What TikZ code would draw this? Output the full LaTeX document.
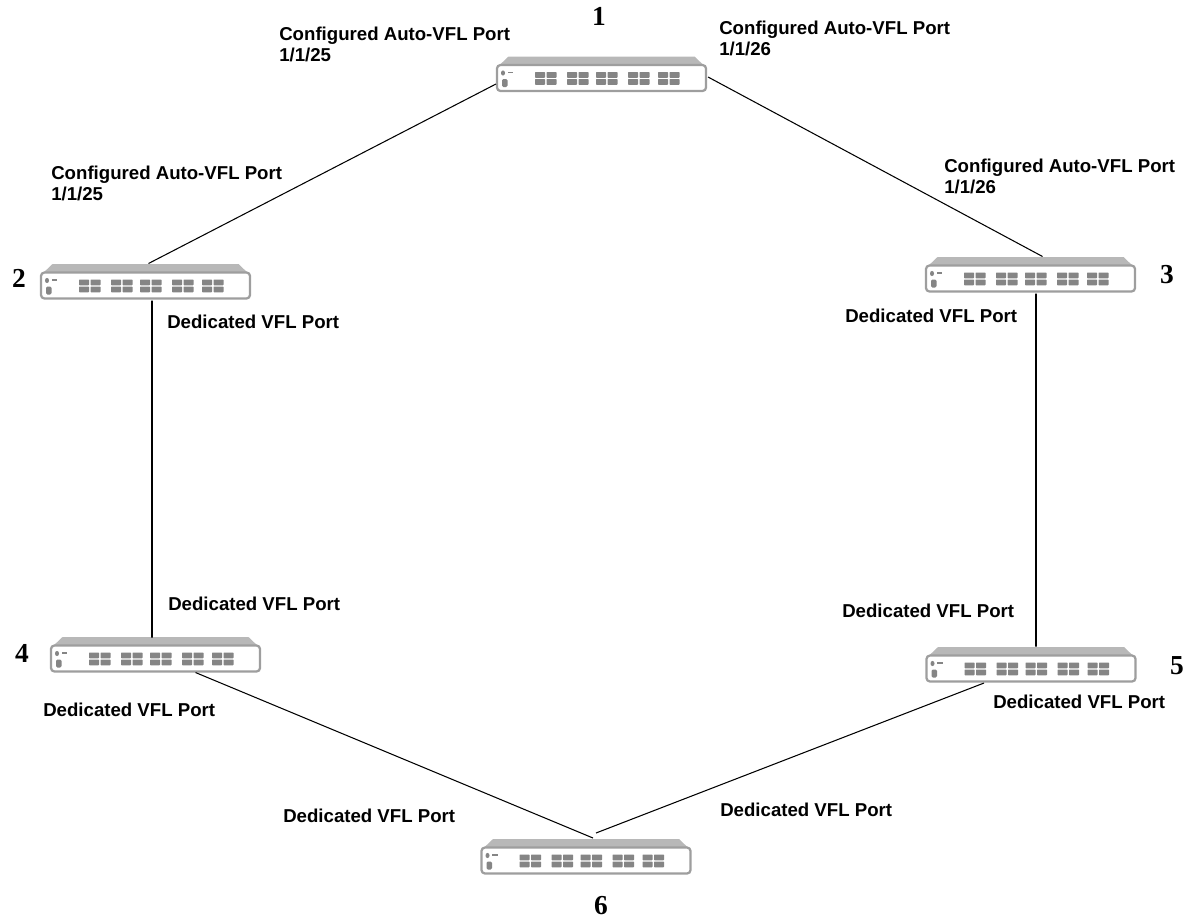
\documentclass[tikz,border=0pt]{standalone}
\usepackage{fontspec}
\setmainfont{Liberation Sans}
\newfontfamily\numfont{Liberation Serif}
\usetikzlibrary{calc}
\definecolor{swedge}{gray}{0.62}
\definecolor{swtop}{gray}{0.72}
\definecolor{swport}{gray}{0.52}
\tikzset{
  swfront/.style={draw=swedge,line width=1.6pt,fill=white,rounded corners=2.5pt,minimum width=209*0.7113pt,minimum height=26*0.7113pt,inner sep=0pt,outer sep=0pt},
  portlabel/.style={font=\fontsize{13.25}{15}\selectfont\bfseries,align=left,anchor=west,inner sep=0pt},
  numlabel/.style={font=\numfont\fontsize{19.5}{21}\selectfont\bfseries,inner sep=0pt},
  link/.style={line width=0.75pt,black},
  vlink/.style={line width=1.1pt,black}
}
% one switch, #1 name, (#2,#3) centre of its front panel
\newcommand{\switchunit}[3]{
  \fill[swtop] (#2-104,#3-11) -- (#2-93,#3-21.5) -- (#2+93,#3-21.5) -- (#2+104,#3-11) -- cycle;
  \node[swfront] (#1) at (#2,#3) {};
  \foreach \gx in {38,70,99,131,161} {
    \foreach \dx in {0,11.5} {
      \foreach \dy in {7,14} {
        \fill[swport,rounded corners=0.5pt] (#2-104.5+\gx+\dx,#3-13+\dy) rectangle ++(10,5.8);
      }
    }
  }
  \fill[swport] (#2-98.5,#3-5) ellipse (2 and 2.6);
  \fill[swport] (#2-94,#3-6.5) rectangle ++(5.5,1.8);
  \fill[swport,rounded corners=1pt] (#2-99.5,#3+1) rectangle ++(5.5,8);
}
\begin{document}
\begin{tikzpicture}[x=0.025cm,y=-0.025cm]
\useasboundingbox (0,0) rectangle (1189,917);

\switchunit{sw1}{601.5}{78}
\switchunit{sw2}{145.5}{285.5}
\switchunit{sw3}{1030.5}{278.5}
\switchunit{sw4}{155.5}{658.5}
\switchunit{sw5}{1031}{668.5}
\switchunit{sw6}{586}{860.5}

\draw[link] ($(sw1.west)+(-1,6)$) -- ($(sw2.north)+(3,-9)$);
\draw[link] ($(sw1.east)+(2,-1)$) -- ($(sw3.north)+(12,-9)$);
\draw[vlink] ($(sw2.south)+(6.5,2)$) -- ($(sw4.north)+(-3.5,-8)$);
\draw[vlink] ($(sw3.south)+(5.5,2)$) -- ($(sw5.north)+(5,-9)$);
\draw[link] ($(sw4.south)+(40,1)$) -- ($(sw6.north)+(7,-9.5)$);
\draw[link] ($(sw5.south)+(-47,1.5)$) -- ($(sw6.north)+(10,-14.5)$);

\node[portlabel] (conf1l) at (279,44) {Configured Auto-VFL Port\\1/1/25};
\node[portlabel] (conf1r) at (719,38) {Configured Auto-VFL Port\\1/1/26};
\node[portlabel] (conf2) at (51,183) {Configured Auto-VFL Port\\1/1/25};
\node[portlabel] (conf3) at (944,176) {Configured Auto-VFL Port\\1/1/26};
\node[portlabel] (ded2) at (167,322) {Dedicated VFL Port};
\node[portlabel] (ded3) at (845,316) {Dedicated VFL Port};
\node[portlabel] (ded4a) at (168,604) {Dedicated VFL Port};
\node[portlabel] (ded5a) at (842,611) {Dedicated VFL Port};
\node[portlabel] (ded4b) at (43,710) {Dedicated VFL Port};
\node[portlabel] (ded5b) at (993,702) {Dedicated VFL Port};
\node[portlabel] (ded6l) at (283,816) {Dedicated VFL Port};
\node[portlabel] (ded6r) at (720,810) {Dedicated VFL Port};

\node[numlabel] (num1) at (599,16) {1};
\node[numlabel] (num2) at (19,278) {2};
\node[numlabel] (num3) at (1167,275) {3};
\node[numlabel] (num4) at (22,653) {4};
\node[numlabel] (num5) at (1177,666) {5};
\node[numlabel] (num6) at (601,906) {6};
\end{tikzpicture}
\end{document}
